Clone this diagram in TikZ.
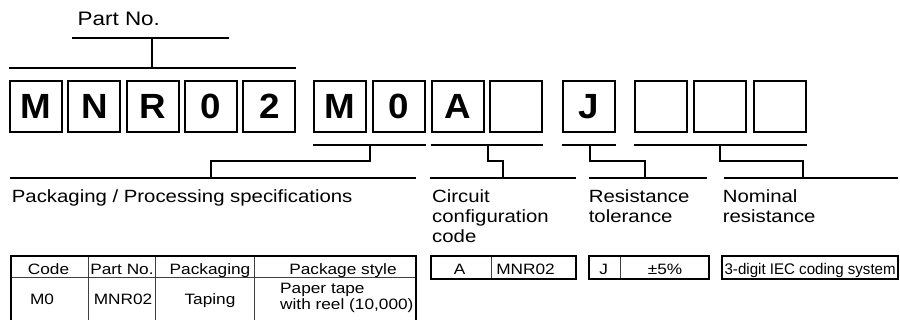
\documentclass[tikz,border=0pt]{standalone}
\usepackage{fontspec}
\setmainfont{Liberation Sans}[FakeStretch=1.15]
\newfontfamily\boxfont{Liberation Sans}[FakeStretch=1.05]
\newfontfamily\narrowfont{Liberation Sans}[FakeStretch=0.98]
\usepackage{tikz}
\tikzstyle{letter}=[draw, line width=2pt, minimum width=52pt, minimum height=51pt, inner sep=0pt, font=\boxfont\bfseries\fontsize{35}{40}\selectfont]
\tikzstyle{bracket}=[draw=black, line width=2pt]
\tikzstyle{desc}=[anchor=north west, inner sep=0pt, align=left, font=\fontsize{17.7}{20}\selectfont]
\tikzstyle{cell}=[anchor=base, inner sep=0pt, font=\fontsize{15}{16}\selectfont]
\tikzstyle{thickrule}=[draw=black, line width=2.2pt]
\tikzstyle{thinrule}=[draw=black!75, line width=1pt]

\begin{document}
\begin{tikzpicture}[x=1pt, y=-1pt]
		   \useasboundingbox (0,0) rectangle (900,320);
		   \begin{scope}
			   \node (0) at (36, 106.5)[letter] {M};
			   \node (1) at (94.3, 106.5)[letter] {N};
			   \node (2) at (152.6, 106.5)[letter] {R};
			   \node (3) at (211, 106.5)[letter] {0};
			   \node (4) at (269.3, 106.5)[letter] {2};

			   \node (5) at (340, 106.5)[letter] {M};
			   \node (6) at (398.5, 106.5)[letter] {0};

			   \node (7) at (458, 106.5)[letter] {A};
			   \node (8) at (516, 106.5)[letter] {};

			   \node (9) at (589, 106.5)[letter] {J};

			   \node (10) at (660.5, 106.5)[letter] {};
			   \node (11) at (719.5, 106.5)[letter] {};
			   \node (12) at (780, 106.5)[letter] {};
		   \end{scope}
		   \begin{scope}
			   \node (partno) at (77.5, 26)[anchor=base west, inner sep=0pt, font=\fontsize{19.5}{22}\selectfont] {Part No.};
			   \node (pack) at (11.7, 189.8)[desc] {Packaging / Processing specifications};
			   \node (circuit) at (432, 189.8)[desc] {Circuit\\configuration\\code};
			   \node (tol) at (588.6, 189.8)[desc] {Resistance\\tolerance};
			   \node (nominal) at (722.6, 189.8)[desc] {Nominal\\resistance};
		   \end{scope}
		   \begin{scope}
			   \path [bracket] (72, 38) -- (229, 38);
			   \path [bracket] (152, 38) -- (152, 68);
			   \path [bracket] ([yshift=12pt]0.north west) -- ([yshift=12pt]4.north east);

			   \path [bracket] ([yshift=-12pt]5.south west) -- ([yshift=-12pt]6.south east);
			   \path [bracket] (370, 145) |- (211, 161) -- (211, 178);
			   \path [bracket] (10, 178) -- (416, 178);

			   \path [bracket] ([yshift=-12pt]7.south west) -- ([yshift=-12pt]8.south east);
			   \path [bracket] (488, 145) |- (503, 161) -- (503, 178);
			   \path [bracket] (430, 178) -- (576, 178);

			   \path [bracket] ([yshift=-12pt]9.south west) -- ([yshift=-12pt]9.south east);
			   \path [bracket] (590, 145) |- (645, 161) -- (645, 178);
			   \path [bracket] (589, 178) -- (707, 178);

			   \path [bracket] ([yshift=-12pt]10.south west) -- ([yshift=-12pt]12.south east);
			   \path [bracket] (720, 145) |- (803, 161) -- (803, 178);
			   \path [bracket] (724, 178) -- (898, 178);
		   \end{scope}
		   \begin{scope}
			   \path [thinrule] (11, 278) -- (416, 278);
			   \path [thinrule] (88, 256) -- (88, 321);
			   \path [thinrule] (155, 256) -- (155, 321);
			   \path [thinrule] (254, 256) -- (254, 321);
			   \path [thickrule] (11, 256) rectangle (416, 321);

			   \node (h1) at (48.5, 275)[cell] {Code};
			   \node (h2) at (122, 275)[cell] {Part No.};
			   \node (h3) at (210, 275)[cell] {Packaging};
			   \node (h4) at (343, 275)[cell] {Package style};
			   \node (r1) at (42, 305)[cell] {M0};
			   \node (r2) at (123, 305)[cell] {MNR02};
			   \node (r3) at (210, 305)[cell] {Taping};
			   \node (r4) at (280, 282.6)[cell, anchor=north west, align=left] {Paper tape\\with reel (10,000)};

			   \path [thinrule] (491, 256) -- (491, 279);
			   \path [thickrule] (431, 256) rectangle (576, 279);
			   \node (a1) at (459.5, 275)[cell] {A};
			   \node (a2) at (525.5, 275)[cell] {MNR02};

			   \path [thinrule] (620, 256) -- (620, 279);
			   \path [thickrule] (589, 256) rectangle (709, 279);
			   \node (j1) at (603.7, 275)[cell] {J};
			   \node (j2) at (665, 275)[cell] {±5\%};

			   \path [thickrule] (722, 256) rectangle (898, 279);
			   \node (iec) at (724.4, 274.5)[cell, anchor=base west, font=\narrowfont\fontsize{15.4}{16}\selectfont] {3-digit IEC coding system};
		   \end{scope}
	   \end{tikzpicture}
\end{document}
